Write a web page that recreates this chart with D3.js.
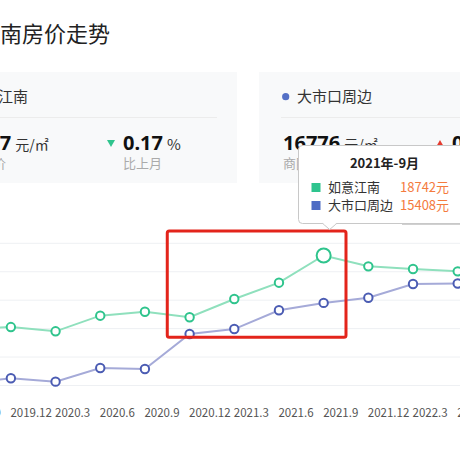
<!DOCTYPE html>
<html>
<head>
<meta charset="utf-8">
<script src="https://cdn.jsdelivr.net/npm/d3@7"></script>
<style>
  html, body { margin: 0; padding: 0; background: #fff; overflow: hidden; }
  svg { display: block; font-family: "Noto Sans CJK SC", "Noto Sans", sans-serif; }
</style>
</head>
<body>
<svg id="chart" width="460" height="460"></svg>
<script>
const titleText = "如意江南房价走势";
const months = ["2019.9", "2019.12", "2020.3", "2020.6", "2020.9", "2020.12",
                "2021.3", "2021.6", "2021.9", "2021.12", "2022.3", "2022.6"];
const ruyiPrices = [13570, 13710, 13410, 14510, 14790, 14400, 15680, 16830, 18742, 17980, 17790, 17627];
const dashikouPrices = [9780, 10110, 9870, 10830, 10760, 13220, 13570, 14890, 15408, 15770, 16740, 16776];
const seriesNames = ["如意江南", "大市口周边"];
const yTicks = [9600, 11600, 13600, 15600, 17600, 19600];
const focusMonth = "2021.9";
const focusTitle = "2021年-9月";
const boxMonths = ["2020.12", "2021.9"];
const boxValues = [13000, 20470];
const cardPrices = ["17627", "16776"];
const cardChanges = ["0.17", "0.35"];
const cardUp = [false, true];
const cardSubLabels = ["小区均价", "商圈均价"];

const colors = {
  green: "#2fc48d", greenLine: "#8fe0bd",
  blue: "#4b5cb3", blueLine: "#a5aad8",
  blueDot: "#5470c6", orange: "#f47b3e", red: "#e53a2e"
};

const svg = d3.select("#chart");

// 标题（左侧被裁切）
svg.append("text")
  .attr("x", -66).attr("y", 41.5)
  .style("font-size", "22px").style("fill", "#222")
  .text(titleText);

// 两张卡片
const cardLefts = [-70, 259];
cardLefts.forEach((left, i) => {
  const g = svg.append("g").attr("transform", `translate(${left},0)`);
  g.append("rect").attr("x", 0).attr("y", 72).attr("width", i === 0 ? 307 : 240).attr("height", 111)
    .attr("fill", "#f8f9fa");
  g.append("circle").attr("cx", 26.7).attr("cy", 96.7).attr("r", 3.6)
    .attr("fill", i === 0 ? colors.green : colors.blueDot);
  g.append("text").attr("x", 38).attr("y", 102)
    .style("font-size", "15px").style("fill", "#333").text(seriesNames[i]);
  g.append("line").attr("x1", 22).attr("x2", i === 0 ? 287 : 240).attr("y1", 117.5).attr("y2", 117.5)
    .attr("stroke", "#ececec");
  const price = g.append("text").attr("x", 24).attr("y", 150);
  price.append("tspan").style("font-size", "20px").style("font-weight", "bold")
    .style("font-family", "'Noto Sans', sans-serif").style("fill", "#111").text(cardPrices[i]);
  price.append("tspan").attr("dx", 4).style("font-size", "14px").style("fill", "#333").text("元/㎡");
  g.append("text").attr("x", 24).attr("y", 168)
    .style("font-size", "13px").style("fill", "#aaa").text(cardSubLabels[i]);

  const tri = cardUp[i] ? "M0,7 L4,0 L8,7 Z" : "M0,0 L8,0 L4,7 Z";
  g.append("path").attr("d", tri).attr("transform", "translate(177,140)")
    .attr("fill", cardUp[i] ? colors.red : colors.green);
  const chg = g.append("text").attr("x", 193).attr("y", 150);
  chg.append("tspan").style("font-size", "20px").style("font-weight", "bold")
    .style("font-family", "'Noto Sans', sans-serif").style("fill", "#111").text(cardChanges[i]);
  chg.append("tspan").attr("dx", 4).style("font-size", "15px").style("fill", "#333").text("%");
  g.append("text").attr("x", 193).attr("y", 168)
    .style("font-size", "13px").style("fill", "#aaa").text("比上月");
});

// 比例尺
const x = d3.scalePoint().domain(months).range([-33.8, 457.7]);
const y = d3.scaleLinear().domain([9600, 19600]).range([385.5, 243.3]);
const step = x.step();

// 网格线
svg.append("g")
  .selectAll("line").data(yTicks).enter().append("line")
  .attr("x1", 0).attr("x2", 460)
  .attr("y1", d => y(d)).attr("y2", d => y(d))
  .attr("stroke", "#eef0f3").attr("stroke-width", 1);

// x 轴标签（左对齐于刻度）
const xAxis = svg.append("g")
  .attr("transform", "translate(0,385.5)")
  .call(d3.axisBottom(x).tickSize(0).tickPadding(23));
xAxis.select(".domain").remove();
xAxis.selectAll("text")
  .attr("text-anchor", "start")
  .attr("dx", -1)
  .style("font-size", "11.5px")
  .style("fill", "#555")
  .style("font-family", "'Noto Sans CJK SC', sans-serif");

// 折线
const seriesList = [
  { values: ruyiPrices, stroke: colors.green, line: colors.greenLine },
  { values: dashikouPrices, stroke: colors.blue, line: colors.blueLine }
];
const lineGen = d3.line().x(d => x(d.m)).y(d => y(d.v));
seriesList.forEach(s => {
  const pts = months.map((m, i) => ({ m, v: s.values[i] }));
  svg.append("path").datum(pts)
    .attr("d", lineGen)
    .attr("fill", "none").attr("stroke", s.line).attr("stroke-width", 2);
  svg.append("g").selectAll("circle").data(pts).enter().append("circle")
    .attr("cx", d => x(d.m)).attr("cy", d => y(d.v))
    .attr("r", d => (d.m === focusMonth && s === seriesList[0]) ? 7 : 4.2)
    .attr("fill", "#fff").attr("stroke", s.stroke).attr("stroke-width", 2);
});

// 红框
const bx0 = x(boxMonths[0]) - step / 2;
const bx1 = x(boxMonths[1]) + step / 2;
svg.append("rect")
  .attr("x", bx0).attr("y", y(boxValues[1]))
  .attr("width", bx1 - bx0).attr("height", y(boxValues[0]) - y(boxValues[1]))
  .attr("fill", "none").attr("stroke", "#e3241b").attr("stroke-width", 3).attr("rx", 2);

// 提示框
const fi = months.indexOf(focusMonth);
const tipX = x(focusMonth) + 6;
const tip = svg.append("g");
svg.append("line").attr("x1", 402).attr("x2", 460).attr("y1", 224.5).attr("y2", 224.5)
  .attr("stroke", "#d0d0d0");
tip.append("rect").attr("x", 298.5).attr("y", 145.5).attr("width", 190).attr("height", 78)
  .attr("rx", 4).attr("fill", "#fff").attr("stroke", "#c8c8c8");
tip.append("path")
  .attr("d", `M${tipX - 7},223.5 L${tipX},229.5 L${tipX + 7},223.5`)
  .attr("fill", "#fff").attr("stroke", "#c8c8c8");
tip.append("line").attr("x1", tipX - 6).attr("x2", tipX + 6).attr("y1", 223.5).attr("y2", 223.5)
  .attr("stroke", "#fff").attr("stroke-width", 1.5);
tip.append("text").attr("x", 384.5).attr("y", 168)
  .attr("text-anchor", "middle")
  .style("font-size", "13px").style("font-weight", "bold").style("fill", "#222")
  .text(focusTitle);
[ruyiPrices[fi], dashikouPrices[fi]].forEach((v, i) => {
  const ry = 183 + i * 18;
  tip.append("rect").attr("x", 311.5).attr("y", ry).attr("width", 9).attr("height", 9)
    .attr("fill", i === 0 ? "#2ec48e" : "#4e6cc4");
  tip.append("text").attr("x", 328).attr("y", ry + 9)
    .style("font-size", "13px").style("fill", "#333").text(seriesNames[i]);
  tip.append("text").attr("x", 400).attr("y", ry + 9)
    .style("font-size", "13px").style("fill", colors.orange).text(v + "元");
});
</script>
</body>
</html>
